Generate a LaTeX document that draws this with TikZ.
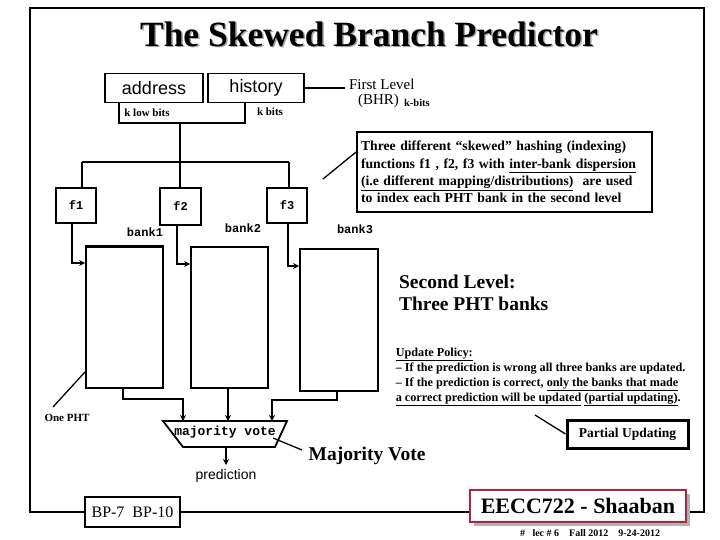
\documentclass[tikz,border=0pt]{standalone}
\usepackage{fontspec}
\setmainfont{Liberation Serif}
\newfontfamily\pixsans{Liberation Sans}
\newfontfamily\pixmono{Liberation Mono}
\usetikzlibrary{arrows.meta,calc}
\definecolor{crimson}{RGB}{176,36,60}
\tikzset{
  box/.style={draw, line width=1.8pt, fill=white, inner sep=0pt},
  arr/.style={-{Stealth[length=6pt,width=6pt]}},
  ln/.style={line width=1.6pt},
}
\begin{document}
\begin{tikzpicture}[x=1pt,y=-1pt,line width=1.6pt]
\useasboundingbox (0,0) rectangle (720,540);
\fill[white] (0,0) rectangle (720,540);
% frame
\draw[line width=2pt] (30,8) rectangle (704,512);
% title
\node (title) [font=\fontsize{35.5}{40}\selectfont\bfseries] at (369,35) {\rlap{\raisebox{-1.5pt}{\kern1.5pt\textcolor{gray!70}{The Skewed Branch Predictor}}}The Skewed Branch Predictor};
% first level
\node (addr) [box, minimum width=98pt, minimum height=29pt, font=\pixsans\fontsize{18}{20}\selectfont] at (154,88) {address};
\node (hist) [box, minimum width=96pt, minimum height=29pt, font=\pixsans\fontsize{18}{20}\selectfont] at (256,88) {history};
\coordinate (fl) at (345,88);
\draw[ln] (hist.east) -- (fl);
\node (first) [font=\fontsize{15}{17}\selectfont, anchor=west] at (345,84) {First Level};
\node (bhr) [font=\fontsize{15}{17}\selectfont, anchor=west] at (354,101) {(BHR)};
\node (kbits2) [font=\fontsize{10.5}{12}\selectfont\bfseries, anchor=west] at (400,103) {k-bits};
\node (klow) [font=\fontsize{11}{12}\selectfont\bfseries] at (147,113) {k low bits};
\node (kbits) [font=\fontsize{11}{12}\selectfont\bfseries] at (270,112) {k bits};
% bracket
\coordinate (bl) at (119,123);
\coordinate (br) at (245,123);
\coordinate (bm) at (180,123);
\coordinate (hub) at (180,162);
\coordinate (h1) at (82,162);
\coordinate (h3) at (289,162);
\draw[ln] (addr.south -| bl) -- (bl) -- (br) -- (hist.south -| br);
\draw[ln] (bm) -- (hub);
\draw[ln] (h1) -- (h3);
% hash functions
\node (f1) [box, line width=1.5pt, minimum width=40pt, minimum height=35pt, font=\pixmono\bfseries\fontsize{12}{14}\selectfont] at (76,205.5) {f1};
\node (f2) [box, line width=2.4pt, minimum width=41pt, minimum height=37pt, font=\pixmono\bfseries\fontsize{12}{14}\selectfont] at (180.5,206.5) {f2};
\node (f3) [box, line width=1.5pt, minimum width=40pt, minimum height=35pt, font=\pixmono\bfseries\fontsize{12}{14}\selectfont] at (287,205.5) {f3};
\draw[ln] (h1) -- (h1 |- f1.north);
\draw[ln] (hub) -- (hub |- f2.north);
\draw[ln] (h3) -- (h3 |- f3.north);
% bank labels
\node (lb1) [font=\pixmono\bfseries\fontsize{12}{14}\selectfont] at (145,232) {bank1};
\node (lb2) [font=\pixmono\bfseries\fontsize{12}{14}\selectfont] at (243,228) {bank2};
\node (lb3) [font=\pixmono\bfseries\fontsize{12}{14}\selectfont] at (355,229) {bank3};
% banks
\node (b1) [box, minimum width=77pt, minimum height=141pt] at (124.5,317.5) {};
\draw[line width=3pt] (b1.north west) -- (b1.north east);
\node (b2) [box, minimum width=77pt, minimum height=141pt] at (229.5,317.5) {};
\node (b3) [box, minimum width=78pt, minimum height=142pt] at (339,320) {};
% hash -> bank
\draw[ln, arr] ($(f1.south)+(-4,0)$) |- (b1.west |- 0,263);
\draw[ln, arr] ($(f2.south)+(-3.5,0)$) |- (b2.west |- 0,264);
\draw[ln, arr] ($(f3.south)+(1,0)$) |- (b3.west |- 0,266);
% majority vote
\coordinate (in1) at (183,421);
\coordinate (in2) at (228,421);
\coordinate (in3) at (272,421);
\draw[ln, line width=1.8pt] (163,421) -- (287,421) -- (275,447) -- (183,447) -- cycle;
\node (mv) [font=\pixmono\bfseries\fontsize{13}{15}\selectfont] at (225,432.5) {majority vote};
\draw[ln, arr] ($(b1.south)+(-1.5,0)$) -- ++(0,10) -| (in1);
\draw[line width=2.4pt, arr] (b2.south -| in2) -- (in2);
\draw[ln, arr] ($(b3.south)+(-2,0)$) -- ++(0,8) -| (in3);
\coordinate (mvb) at (226,447);
\node (pred) [font=\pixsans\fontsize{14}{16}\selectfont] at (226,476) {prediction};
\draw[line width=1.2pt, arr] (mvb) -- (226,465);
% one PHT
\node (oph) [font=\fontsize{11}{13}\selectfont\bfseries] at (67,418) {One PHT};
\draw[line width=1.3pt] (53,407) -- (85,372);
% majority vote label
\node (mvl) [font=\fontsize{19.5}{22}\selectfont\bfseries] at (367,456) {Majority Vote};
\draw[line width=1.3pt] (273,438) -- (302,450);
% callout
\node (call) [box, line width=1.8pt, minimum width=295pt, minimum height=80pt, text width=287pt, inner xsep=4pt, align=left, font=\fontsize{13.7}{17.3}\selectfont\bfseries] at (504.5,172) {Three different “skewed” hashing (indexing)\\functions f1 , f2, f3 with \underline{inter-bank dispersion}\\\underline{(i.e different mapping/distributions)}\ \ are used\\to index each PHT bank in the second level};
\draw[line width=1.3pt] (323,179) -- (call.west |- 0,152);
% second level
\node (sec) [anchor=west, align=left, font=\fontsize{19.5}{22}\selectfont\bfseries] at (395,293) {Second Level:\\Three PHT banks};
% update policy
\node (upd) [anchor=north west, align=left, inner sep=0pt, font=\fontsize{12.2}{15}\selectfont\bfseries] at (395,347) {\underline{Update Policy:}\\– If the prediction is wrong all three banks are updated.\\– If the prediction is correct, \underline{only the banks that made}\\\underline{a correct prediction will be updated} \underline{(partial updating)}.};
% partial updating
\node (pu) [box, line width=3pt, minimum width=121pt, minimum height=28pt, font=\fontsize{13.5}{16}\selectfont\bfseries] at (627.5,434) {Partial Updating};
\draw[line width=1.3pt] (535,415) -- (pu.west);
% footer
\node (bp) [box, line width=1.8pt, minimum width=95pt, minimum height=30pt, font=\fontsize{16}{18}\selectfont] at (132.5,512) {BP-7\ \ BP-10};
\fill[gray!60] (474,494) rectangle (690,526);
\node (ee) [box, draw=crimson, line width=2pt, minimum width=216pt, minimum height=32pt, font=\fontsize{22}{24}\selectfont\bfseries] at (578,506) {EECC722 - Shaaban};
\node (foot) [font=\fontsize{10}{11}\selectfont\bfseries] at (590,533) {\#\ \ \ lec \# 6\ \ \ \ Fall 2012\ \ \ \ 9-24-2012};
\end{tikzpicture}
\end{document}
